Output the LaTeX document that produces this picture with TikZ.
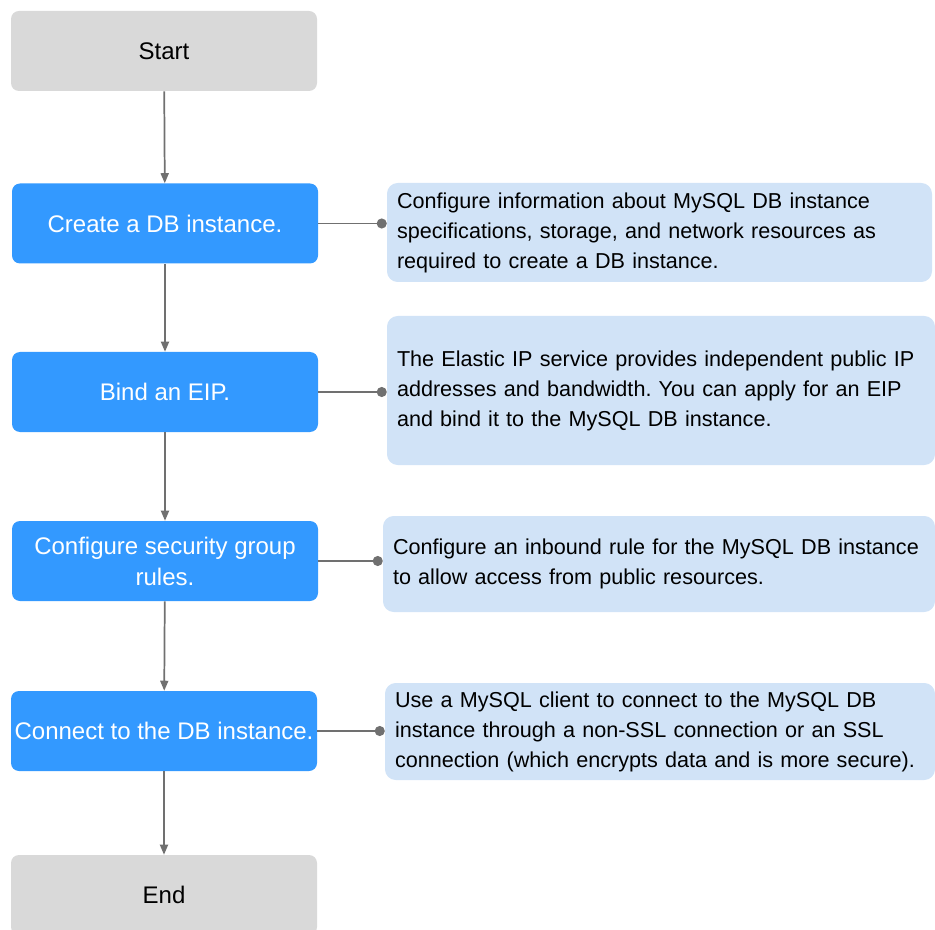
\documentclass[tikz,border=0pt]{standalone}
\usepackage{fontspec}
\setmainfont{Liberation Sans}
\usetikzlibrary{arrows.meta}
\definecolor{stepblue}{RGB}{51,153,255}
\definecolor{endgray}{RGB}{217,217,217}
\definecolor{noteblue}{RGB}{209,227,247}
\definecolor{linegray}{RGB}{112,112,112}
\tikzset{%
  stepbox/.style={%
    rectangle, rounded corners=6pt, fill=stepblue, text=white,
    minimum width=229.5pt, minimum height=60pt, inner sep=0pt,
    align=center, font=\fontsize{18}{23.25}\selectfont},
  endbox/.style={stepbox, fill=endgray, text=black},
  notebox/.style={%
    rectangle, rounded corners=8pt, fill=noteblue, text=black,
    inner xsep=7.5pt, inner ysep=0pt, text width=#1, align=left,
    font=\fontsize{16.2}{22.5}\selectfont\frenchspacing},
  flow/.style={draw=linegray, line width=1.3pt,
    -{Triangle[length=7.5pt, width=6pt]}},
  link/.style={draw=linegray, line width=1.3pt,
    -{Circle[length=7.5pt]}}
}

\begin{document}
\begin{tikzpicture}[x=0.75pt, y=-0.75pt]
    \useasboundingbox (0,0) rectangle (935,930);

    \node [endbox]   (start)    at (164,51)    {Start};
    \node [stepbox]  (create)   at (165,223.5) {Create a DB instance.};
    \node [stepbox]  (bind)     at (165,392)   {Bind an EIP.};
    \node [stepbox]  (secgroup) at (165,561)   {Configure security group\\rules.};
    \node [stepbox]  (connect)  at (164,731)   {Connect to the DB instance.};
    \node [endbox]   (end)      at (164,895)   {End};

    \node [notebox=393.75pt, minimum height=74.25pt] (info) at (659.5,232.5)
      {Configure information about MySQL DB instance\\
       specifications, storage, and network resources as\\
       required to create a DB instance.};
    \node [notebox=396pt, minimum height=111.75pt] (eip) at (661,390.5)
      {The Elastic IP service provides independent public IP\\
       addresses and bandwidth. You can apply for an EIP\\
       and bind it to the MySQL DB instance.};
    \node [notebox=399pt, minimum height=72pt] (rule) at (659,564)
      {Configure an inbound rule for the MySQL DB instance\\
       to allow access from public resources.};
    \node [notebox=397.5pt, minimum height=72.75pt] (ssl) at (660,731.5)
      {Use a MySQL client to connect to the MySQL DB\\
       instance through a non-SSL connection or an SSL\\
       connection (which encrypts data and is more secure).};

    \draw [flow] (start) -- (create);
    \draw [flow] (create) -- (bind);
    \draw [flow] (bind) -- (secgroup);
    \draw [flow] (secgroup) -- (connect);
    \draw [flow] (connect) -- (end);

    \draw [link] (create.east) -- (create.east -| info.west);
    \draw [link] (bind.east) -- (bind.east -| eip.west);
    \draw [link] (secgroup.east) -- (secgroup.east -| rule.west);
    \draw [link] (connect.east) -- (connect.east -| ssl.west);
\end{tikzpicture}
\end{document}
